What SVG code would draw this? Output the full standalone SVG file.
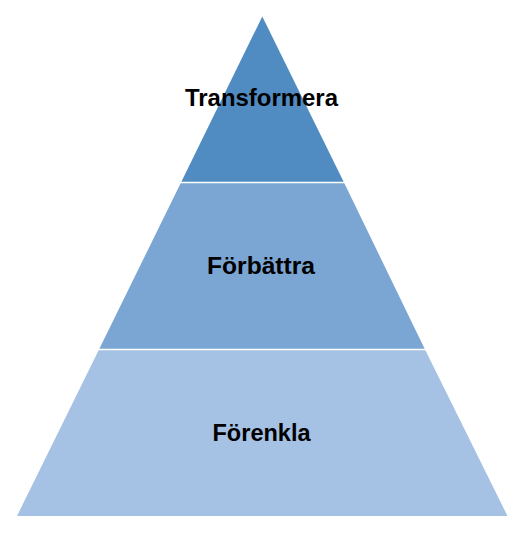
<svg xmlns="http://www.w3.org/2000/svg" width="524" height="538" viewBox="0 0 524 538">
<style>
.lbl{font-family:"Liberation Sans",Arial,sans-serif;font-weight:bold;font-size:24px;fill:#000;text-anchor:middle}
.sep{stroke:#fff;stroke-width:1.5}
</style>
<rect width="524" height="538" fill="#fff"/>
<g id="layer-bottom">
<polygon points="99,349.5 425,349.5 507.5,516 17,516" fill="#A5C1E4"/>
<text class="lbl" x="261.5" y="440.5" textLength="98" lengthAdjust="spacingAndGlyphs">Förenkla</text>
</g>
<g id="layer-middle">
<polygon points="181,182.5 344,182.5 425,349.5 99,349.5" fill="#7BA6D3"/>
<text class="lbl" x="261" y="274" textLength="108" lengthAdjust="spacingAndGlyphs">Förbättra</text>
</g>
<g id="layer-top">
<polygon points="262.3,16.5 344,182.5 181,182.5" fill="#508CC2"/>
<text class="lbl" x="261.5" y="105.5" textLength="153" lengthAdjust="spacingAndGlyphs">Transformera</text>
</g>
<g id="connectors">
<line class="sep" x1="180" y1="182.5" x2="345" y2="182.5"/>
<line class="sep" x1="98" y1="349.5" x2="426" y2="349.5"/>
</g>
</svg>
